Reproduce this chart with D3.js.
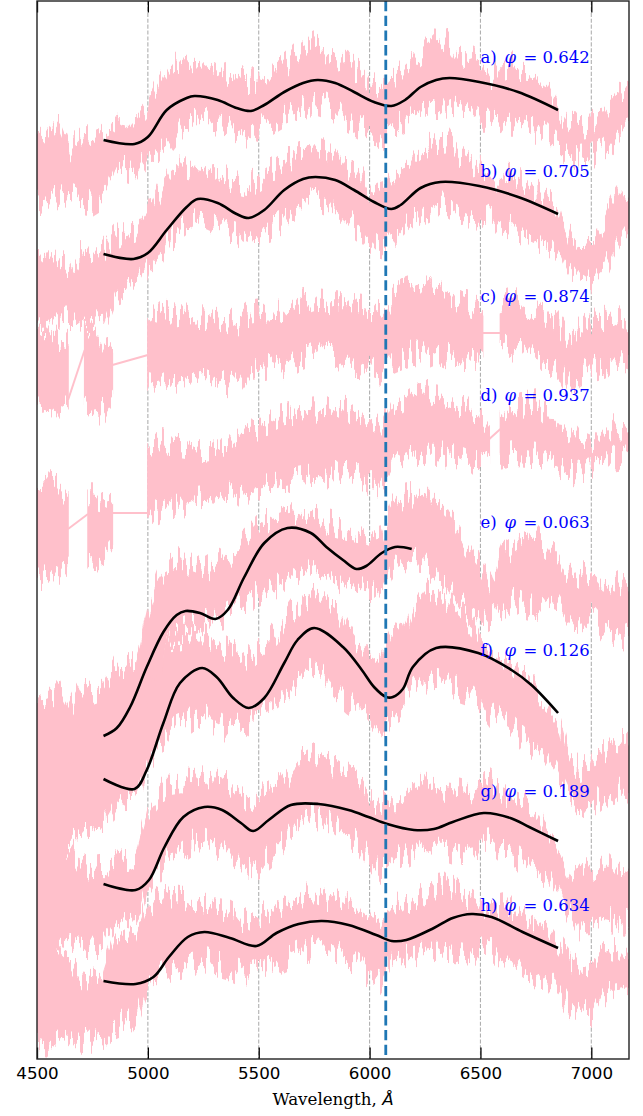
<!DOCTYPE html>
<html>
<head>
<meta charset="utf-8">
<script src="https://cdn.jsdelivr.net/npm/d3@7/dist/d3.min.js"></script>
<style>
  body { margin: 0; background: #fff; }
</style>
</head>
<body>
<div id="chart"></div>
<script>
// wavelength ticks and phase labels
const xTicks = [4500, 5000, 5500, 6000, 6500, 7000];
const phaseLabels = ['a)', 'b)', 'c)', 'd)', 'e)', 'f)', 'g)', 'h)'];
const phaseValues = ['0.642', '0.705', '0.874', '0.937', '0.063', '0.126', '0.189', '0.634'];
const labelLevels = [10.02, 8.88, 7.63, 6.64, 5.37, 4.09, 2.68, 1.54];
const labelWl = 6500;
const lineWl = 6073;

// observed spectra (flux + offset): [wavelength, upper, lower] envelope
const specA = [[4500,9.14,8.56],[4550,9.24,8.59],[4600,9.37,8.62],[4650,9.09,8.64],[4700,9.21,8.59],[4750,9.19,8.57],[4800,9.31,8.64],[4850,9.36,8.89],[4900,9.29,8.91],[4950,9.41,8.87],[5000,9.54,9.04],[5050,9.74,9.09],[5100,9.91,9.19],[5150,9.94,9.34],[5200,9.97,9.37],[5250,9.99,9.41],[5300,9.91,9.34],[5350,9.84,9.37],[5400,9.81,9.27],[5450,9.77,9.24],[5500,9.79,9.31],[5550,9.83,9.37],[5600,9.89,9.44],[5650,9.99,9.47],[5700,10.09,9.51],[5750,10.14,9.59],[5800,10.04,9.55],[5850,10.01,9.49],[5900,9.94,9.41],[5950,9.87,9.34],[6000,9.74,9.27],[6050,9.69,9.21],[6100,9.81,9.29],[6150,9.89,9.39],[6200,9.99,9.44],[6250,10.09,9.49],[6300,10.19,9.54],[6350,10.21,9.53],[6400,10.04,9.49],[6450,10.01,9.47],[6500,9.94,9.41],[6550,9.79,9.41],[6600,9.91,9.37],[6650,9.94,9.37],[6700,9.84,9.31],[6750,9.79,9.29],[6800,9.71,9.24],[6850,9.49,9.14],[6900,9.34,9.04],[6950,9.32,9.02],[7000,9.34,9.04],[7050,9.44,9.09],[7100,9.59,9.19],[7150,9.67,9.27],[7170,9.69,9.29]];
const specB = [[4500,8.02,7.34],[4550,8.04,7.36],[4600,7.97,7.39],[4650,7.89,7.41],[4700,8.06,7.39],[4750,8.04,7.36],[4800,8.09,7.37],[4850,8.21,7.67],[4900,8.27,7.71],[4950,8.29,7.74],[5000,8.44,7.94],[5050,8.64,8.01],[5100,8.84,8.19],[5150,8.94,8.29],[5200,8.91,8.37],[5250,8.89,8.39],[5300,8.84,8.34],[5350,8.81,8.31],[5400,8.77,8.27],[5450,8.74,8.21],[5500,8.79,8.27],[5550,8.87,8.31],[5600,8.97,8.37],[5650,9.01,8.44],[5700,9.09,8.54],[5750,9.14,8.61],[5800,9.09,8.57],[5850,9.04,8.49],[5900,8.91,8.39],[5950,8.84,8.31],[6000,8.69,8.19],[6050,8.64,8.09],[6100,8.79,8.21],[6150,8.87,8.31],[6200,8.99,8.41],[6250,9.09,8.49],[6300,9.17,8.54],[6350,9.19,8.56],[6400,9.04,8.49],[6450,8.97,8.44],[6500,8.91,8.37],[6550,8.74,8.44],[6600,8.84,8.34],[6650,8.81,8.31],[6700,8.74,8.24],[6750,8.69,8.19],[6800,8.61,8.13],[6850,8.54,8.07],[6900,8.21,7.84],[6950,8.14,7.74],[7000,8.17,7.77],[7050,8.34,7.89],[7100,8.54,8.09],[7150,8.69,8.27],[7170,8.72,8.31]];
const specC = [[4500,7.26,6.49],[4550,7.29,6.51],[4600,7.19,6.49],[4640,7.15,6.55],[4660,null,null],[4715,7.34,6.50],[4750,7.29,6.47],[4800,7.14,6.49],[4840,7.10,6.60],[4900,null,null],[5000,7.44,6.74],[5050,7.51,6.71],[5100,7.47,6.77],[5150,7.44,6.79],[5200,7.39,6.77],[5250,7.41,6.81],[5300,7.37,6.79],[5350,7.39,6.76],[5400,7.34,6.74],[5450,7.44,6.89],[5500,7.46,6.91],[5550,7.47,6.94],[5600,7.49,6.89],[5650,7.51,6.97],[5700,7.57,7.04],[5750,7.61,7.09],[5800,7.59,7.14],[5850,7.54,7.04],[5900,7.54,6.97],[5950,7.51,6.94],[6000,7.49,6.91],[6050,7.44,6.87],[6100,7.59,6.99],[6150,7.67,7.04],[6200,7.71,7.07],[6250,7.69,7.04],[6300,7.67,7.09],[6350,7.64,7.04],[6400,7.59,7.01],[6450,7.54,6.99],[6510,7.49,7.01],[6550,null,null],[6590,7.54,7.14],[6650,7.59,7.11],[6700,7.54,7.09],[6750,7.47,7.01],[6800,7.44,6.97],[6850,7.34,6.94],[6900,7.19,6.74],[6950,7.29,6.87],[7000,7.37,6.91],[7050,7.39,6.94],[7100,7.41,6.99],[7150,7.37,7.01],[7170,7.34,6.99]];
const specD = [[4500,5.76,4.82],[4550,5.79,4.84],[4600,5.69,4.89],[4640,5.64,4.94],[4680,null,null],[4730,5.62,4.99],[4750,5.62,4.96],[4800,5.59,4.99],[4840,5.54,5.09],[4900,null,null],[5000,6.14,5.44],[5050,6.19,5.49],[5100,6.16,5.54],[5150,6.14,5.54],[5200,6.12,5.59],[5250,6.09,5.61],[5300,6.11,5.59],[5350,6.14,5.64],[5400,6.24,5.67],[5450,6.29,5.69],[5500,6.31,5.71],[5550,6.34,5.73],[5600,6.41,5.77],[5650,6.44,5.79],[5700,6.47,5.81],[5750,6.49,5.83],[5800,6.47,5.84],[5850,6.51,5.86],[5900,6.49,5.87],[5950,6.44,5.83],[6000,6.34,5.76],[6050,6.29,5.74],[6100,6.54,5.94],[6150,6.59,5.99],[6200,6.67,6.04],[6250,6.69,6.07],[6300,6.64,6.07],[6350,6.61,6.04],[6400,6.54,6.01],[6450,6.47,5.96],[6500,6.39,5.97],[6540,6.31,6.01],[6560,null,null],[6590,6.41,6.04],[6650,6.49,6.07],[6700,6.54,6.06],[6750,6.56,6.04],[6800,6.44,5.99],[6850,6.31,5.92],[6900,6.29,5.87],[6950,6.14,5.86],[7000,6.09,5.89],[7050,6.19,5.91],[7100,6.31,6.01],[7150,6.29,6.03],[7170,6.27,6.04]];
const specE = [[4500,3.54,2.69],[4550,3.59,2.74],[4600,3.69,2.69],[4650,3.49,2.79],[4700,3.69,2.79],[4750,3.67,2.77],[4800,3.71,2.84],[4850,3.89,3.09],[4900,3.91,3.11],[4950,3.99,3.19],[5000,4.49,3.69],[5050,4.79,3.94],[5100,4.94,4.19],[5150,4.99,4.29],[5200,4.91,4.34],[5250,4.87,4.37],[5300,4.94,4.41],[5350,4.99,4.44],[5400,5.09,4.51],[5450,5.19,4.59],[5500,5.31,4.67],[5550,5.39,4.71],[5600,5.44,4.77],[5650,5.47,4.84],[5700,5.44,4.89],[5750,5.41,4.94],[5800,5.37,4.87],[5850,5.34,4.81],[5900,5.31,4.74],[5950,5.29,4.71],[6000,5.24,4.69],[6050,5.19,4.67],[6100,5.54,4.94],[6150,5.61,5.01],[6200,5.64,4.99],[6250,5.67,4.97],[6300,5.54,4.84],[6350,5.44,4.71],[6400,5.24,4.59],[6450,5.09,4.47],[6500,4.94,4.37],[6550,4.74,4.44],[6600,5.04,4.54],[6650,5.11,4.59],[6700,5.19,4.54],[6750,5.21,4.51],[6800,5.11,4.59],[6850,4.99,4.54],[6900,4.81,4.37],[6950,4.84,4.41],[7000,4.87,4.44],[7050,4.74,4.31],[7100,4.71,4.27],[7150,4.79,4.22],[7170,4.81,4.24]];
const specF = [[4500,3.14,2.09],[4550,3.19,2.14],[4600,3.09,2.09],[4650,2.99,2.19],[4700,3.24,2.29],[4750,3.29,2.31],[4800,3.34,2.34],[4850,3.39,2.54],[4900,3.34,2.59],[4950,3.44,2.64],[5000,3.69,2.99],[5050,3.94,3.14],[5100,4.14,3.29],[5150,4.21,3.34],[5200,4.23,3.41],[5250,4.24,3.44],[5300,4.14,3.37],[5350,4.09,3.31],[5400,4.04,3.34],[5450,3.99,3.34],[5500,4.09,3.44],[5550,4.19,3.51],[5600,4.31,3.59],[5650,4.47,3.69],[5700,4.59,3.84],[5750,4.64,3.94],[5800,4.54,3.81],[5850,4.47,3.69],[5900,4.29,3.59],[5950,4.14,3.51],[6000,4.01,3.37],[6050,3.94,3.27],[6100,4.19,3.47],[6150,4.27,3.54],[6200,4.54,3.74],[6250,4.67,3.79],[6300,4.64,3.81],[6350,4.59,3.79],[6400,4.47,3.71],[6450,4.37,3.67],[6500,4.19,3.59],[6550,4.07,3.44],[6600,3.99,3.39],[6650,3.94,3.31],[6700,3.81,3.19],[6750,3.69,3.11],[6800,3.59,2.99],[6850,3.39,2.84],[6900,2.99,2.59],[6950,2.89,2.51],[7000,2.94,2.54],[7050,3.07,2.64],[7100,3.14,2.69],[7150,3.19,2.69],[7170,3.21,2.71]];
const specG = [[4500,2.24,1.09],[4550,2.29,1.04],[4600,2.19,1.11],[4650,2.09,1.19],[4700,1.94,1.14],[4750,1.89,1.12],[4800,1.91,1.14],[4850,2.01,1.34],[4900,1.99,1.37],[4950,2.04,1.39],[5000,2.49,1.74],[5050,2.64,1.89],[5100,2.77,2.04],[5150,2.79,2.09],[5200,2.77,2.17],[5250,2.79,2.19],[5300,2.81,2.14],[5350,2.79,2.11],[5400,2.69,1.99],[5450,2.59,1.89],[5500,2.62,1.94],[5550,2.64,2.04],[5600,2.74,2.14],[5650,2.87,2.29],[5700,3.01,2.39],[5750,3.07,2.44],[5800,2.99,2.39],[5850,2.91,2.31],[5900,2.84,2.24],[5950,2.77,2.17],[6000,2.61,2.01],[6050,2.54,1.89],[6100,2.59,1.99],[6150,2.59,2.03],[6200,2.69,2.09],[6250,2.76,2.14],[6300,2.71,2.11],[6350,2.69,2.11],[6400,2.67,2.07],[6450,2.64,2.04],[6500,2.74,2.17],[6550,2.77,2.19],[6600,2.64,2.09],[6650,2.59,2.04],[6700,2.54,1.97],[6750,2.49,1.91],[6800,2.29,1.84],[6850,2.09,1.69],[6900,1.89,1.47],[6950,1.84,1.29],[7000,1.89,1.31],[7050,1.97,1.41],[7100,1.87,1.39],[7150,1.86,1.37],[7170,1.89,1.39]];
const specH = [[4500,1.19,0.14],[4550,1.14,0.12],[4600,1.04,0.17],[4650,0.94,0.24],[4700,0.81,0.19],[4750,0.79,0.19],[4800,0.84,0.24],[4850,1.19,0.34],[4900,1.14,0.39],[4950,1.24,0.44],[5000,1.54,0.74],[5050,1.59,0.84],[5100,1.61,0.91],[5150,1.59,0.94],[5200,1.54,0.97],[5250,1.52,1.01],[5300,1.49,0.97],[5350,1.47,0.94],[5400,1.41,0.89],[5450,1.37,0.84],[5500,1.41,0.89],[5550,1.47,0.94],[5600,1.54,0.99],[5650,1.59,1.04],[5700,1.64,1.09],[5750,1.66,1.11],[5800,1.61,1.09],[5850,1.57,1.07],[5900,1.53,0.99],[5950,1.49,0.94],[6000,1.41,0.84],[6050,1.37,0.79],[6100,1.51,0.97],[6150,1.54,1.01],[6200,1.61,1.04],[6250,1.66,1.07],[6300,1.71,1.09],[6350,1.73,1.11],[6400,1.66,1.09],[6450,1.61,1.07],[6500,1.54,1.09],[6550,1.49,1.11],[6600,1.52,1.01],[6650,1.49,0.97],[6700,1.41,0.89],[6750,1.37,0.84],[6800,1.29,0.79],[6850,1.14,0.69],[6900,0.99,0.54],[6950,0.94,0.49],[7000,0.91,0.46],[7050,1.04,0.64],[7100,1.11,0.74],[7150,1.12,0.76],[7170,1.13,0.77]];

// straight segments across data gaps: [wl1, flux1, wl2, flux2]
const gapLines = [[4640,6.59,4715,7.09],[4840,6.94,5000,7.04],[6510,7.26,6590,7.26],[4640,5.30,4730,5.45],[4840,5.46,5000,5.46],[6540,6.20,6590,6.30]];

// smooth model fits: [wavelength, flux + offset]
const fitA = [[4800,9.19],[4940,9.15],[5000,9.22],[5085,9.49],[5175,9.61],[5210,9.63],[5315,9.59],[5400,9.51],[5465,9.48],[5525,9.54],[5615,9.67],[5700,9.76],[5765,9.79],[5845,9.76],[5930,9.67],[6020,9.57],[6098,9.53],[6160,9.59],[6230,9.72],[6300,9.79],[6360,9.81],[6495,9.77],[6670,9.67],[6850,9.49]];
const fitB = [[4800,8.05],[4935,8.00],[5000,8.06],[5085,8.29],[5175,8.52],[5225,8.60],[5315,8.56],[5400,8.45],[5455,8.41],[5525,8.49],[5615,8.69],[5700,8.80],[5755,8.82],[5845,8.79],[5930,8.69],[6020,8.57],[6098,8.50],[6140,8.54],[6230,8.71],[6320,8.77],[6495,8.73],[6670,8.62],[6850,8.45]];
const fitE = [[4800,3.23],[4860,3.31],[4920,3.52],[4995,3.92],[5070,4.27],[5130,4.44],[5170,4.48],[5235,4.46],[5305,4.40],[5360,4.49],[5435,4.82],[5525,5.16],[5630,5.31],[5735,5.26],[5805,5.12],[5880,4.99],[5940,4.90],[5985,4.93],[6055,5.06],[6115,5.12],[6190,5.10]];
const fitF = [[4800,2.80],[4940,2.70],[4995,2.89],[5070,3.36],[5145,3.76],[5245,3.91],[5310,3.82],[5385,3.61],[5455,3.51],[5525,3.61],[5615,3.96],[5675,4.19],[5750,4.31],[5880,4.12],[5965,3.89],[6020,3.72],[6075,3.62],[6105,3.62],[6150,3.70],[6195,3.92],[6300,4.11],[6490,4.06],[6640,3.89],[6730,3.74],[6850,3.46]];
const fitG = [[4800,1.75],[4945,1.69],[5005,1.79],[5075,2.12],[5160,2.42],[5255,2.52],[5335,2.49],[5420,2.36],[5475,2.28],[5545,2.39],[5645,2.54],[5770,2.55],[5905,2.49],[5995,2.42],[6080,2.35],[6200,2.29],[6290,2.30],[6375,2.37],[6515,2.46],[6635,2.41],[6720,2.32],[6850,2.18]];
const fitH = [[4800,0.78],[4945,0.75],[5025,0.82],[5095,1.02],[5180,1.22],[5255,1.27],[5370,1.21],[5490,1.13],[5580,1.26],[5680,1.35],[5785,1.38],[5905,1.34],[6030,1.24],[6100,1.18],[6165,1.19],[6290,1.31],[6375,1.41],[6460,1.45],[6550,1.42],[6690,1.27],[6850,1.11]];

const spectra = [specA, specB, specC, specD, specE, specF, specG, specH];
const fits = [fitA, fitB, fitE, fitF, fitG, fitH];

const width = 643;
const height = 1116;
const margin = { top: 1, right: 14, bottom: 57, left: 37 };
const innerWidth = width - margin.left - margin.right;
const innerHeight = height - margin.top - margin.bottom;

const svg = d3.select('#chart')
  .append('svg')
  .attr('width', width)
  .attr('height', height)
  .append('g')
  .attr('transform', `translate(${margin.left},${margin.top})`);

const x = d3.scaleLinear().domain([4500, 7170]).range([0, innerWidth]);
const y = d3.scaleLinear().domain([0, 10.58]).range([innerHeight, 0]);

const defs = svg.append('defs');
defs.append('clipPath').attr('id', 'clip')
  .append('rect').attr('width', innerWidth).attr('height', innerHeight);

// vertical streak texture so the bands read as noisy spectra
const noisy = defs.append('filter')
  .attr('id', 'noisy')
  .attr('filterUnits', 'userSpaceOnUse')
  .attr('x', -20).attr('y', -60)
  .attr('width', innerWidth + 40).attr('height', innerHeight + 120)
  .attr('color-interpolation-filters', 'sRGB');
noisy.append('feTurbulence')
  .attr('type', 'fractalNoise')
  .attr('baseFrequency', '0.28 0.012')
  .attr('numOctaves', 2)
  .attr('seed', 7)
  .attr('result', 'noise');
noisy.append('feColorMatrix')
  .attr('in', 'noise')
  .attr('type', 'matrix')
  .attr('values', '0 0 0 0 0.5  2.4 0 0 0 -0.7  0 0 0 0 0  0 0 0 0 1')
  .attr('result', 'map');
noisy.append('feDisplacementMap')
  .attr('in', 'SourceGraphic')
  .attr('in2', 'map')
  .attr('scale', 28)
  .attr('xChannelSelector', 'R')
  .attr('yChannelSelector', 'G');

// vertical dashed grid at major ticks
svg.append('g')
  .selectAll('line')
  .data(xTicks.slice(1))
  .enter()
  .append('line')
  .attr('x1', (d) => x(d))
  .attr('x2', (d) => x(d))
  .attr('y1', 0)
  .attr('y2', innerHeight)
  .style('stroke', '#b0b0b0')
  .style('stroke-width', 1.1)
  .style('stroke-dasharray', '4.1,1.8');

const plot = svg.append('g').attr('clip-path', 'url(#clip)');

// spectra as pink bands
const band = d3.area()
  .defined((d) => d[1] !== null)
  .x((d) => x(d[0]))
  .y0((d) => y(d[2]))
  .y1((d) => y(d[1]));

plot.append('g')
  .attr('filter', 'url(#noisy)')
  .selectAll('.spec')
  .data(spectra)
  .enter()
  .append('path')
  .attr('class', 'spec')
  .attr('d', band)
  .style('fill', 'pink')
  .style('stroke', 'pink')
  .style('stroke-width', 1.5)
  .style('stroke-linejoin', 'round');

plot.selectAll('.gap')
  .data(gapLines)
  .enter()
  .append('line')
  .attr('class', 'gap')
  .attr('x1', (d) => x(d[0]))
  .attr('y1', (d) => y(d[1]))
  .attr('x2', (d) => x(d[2]))
  .attr('y2', (d) => y(d[3]))
  .style('stroke', 'pink')
  .style('stroke-width', 2);

// model fits
const fitLine = d3.line()
  .x((d) => x(d[0]))
  .y((d) => y(d[1]))
  .curve(d3.curveCatmullRom.alpha(0.5));

plot.selectAll('.fit')
  .data(fits)
  .enter()
  .append('path')
  .attr('class', 'fit')
  .attr('d', fitLine)
  .style('fill', 'none')
  .style('stroke', '#000')
  .style('stroke-width', 2.6)
  .style('stroke-linecap', 'butt');

// phase labels, pieces placed like the mathtext spacing
const lx = x(labelWl);
const labelParts = [
  { dx: 0, text: (d) => d, italic: false },
  { dx: 24, text: () => 'φ\u2009', italic: true },
  { dx: 43, text: () => '=', italic: false },
  { dx: 62, text: (d, i) => phaseValues[i], italic: false },
];
const labelLayer = svg.append('g');
labelParts.forEach((part) => {
  labelLayer.selectAll(null)
    .data(phaseLabels)
    .enter()
    .append('text')
    .attr('x', lx + part.dx)
    .attr('y', (d, i) => y(labelLevels[i]))
    .attr('dy', '0.35em')
    .style('font-family', '"DejaVu Serif", serif')
    .style('font-size', '16.5px')
    .style('font-style', part.italic ? 'italic' : 'normal')
    .style('fill', '#0000ff')
    .text(part.text);
});

// reference line
svg.append('line')
  .attr('x1', x(lineWl))
  .attr('x2', x(lineWl))
  .attr('y1', 0)
  .attr('y2', innerHeight)
  .style('stroke', '#1f77b4')
  .style('stroke-width', 2.8)
  .style('stroke-dasharray', '10.3,4.4');

// axes with inward ticks
const bottomAxis = svg.append('g')
  .attr('transform', `translate(0,${innerHeight})`)
  .call(d3.axisBottom(x).tickValues(xTicks).tickFormat(d3.format('d'))
    .tickSizeInner(-11.5).tickSizeOuter(0).tickPadding(8));
const topAxis = svg.append('g')
  .call(d3.axisTop(x).tickValues(xTicks).tickSizeInner(-11.5).tickSizeOuter(0).tickFormat(''));
[bottomAxis, topAxis].forEach((ax) => {
  ax.select('.domain').remove();
  ax.selectAll('.tick line').style('stroke', '#000').style('stroke-width', 1.3);
});
bottomAxis.selectAll('.tick text')
  .style('font-family', '"DejaVu Sans", sans-serif')
  .style('font-size', '16.7px')
  .style('fill', '#000');

svg.append('rect')
  .attr('width', innerWidth)
  .attr('height', innerHeight)
  .style('fill', 'none')
  .style('stroke', '#222')
  .style('stroke-width', 1.4);

const xlabel = svg.append('text')
  .attr('x', innerWidth / 2)
  .attr('y', innerHeight + 46)
  .attr('text-anchor', 'middle')
  .style('font-family', '"DejaVu Serif", serif')
  .style('font-size', '16.7px')
  .style('fill', '#000');
xlabel.append('tspan').text('Wavelength, ');
xlabel.append('tspan')
  .style('font-family', '"DejaVu Sans", sans-serif')
  .style('font-style', 'italic')
  .text('Å');
</script>
</body>
</html>
